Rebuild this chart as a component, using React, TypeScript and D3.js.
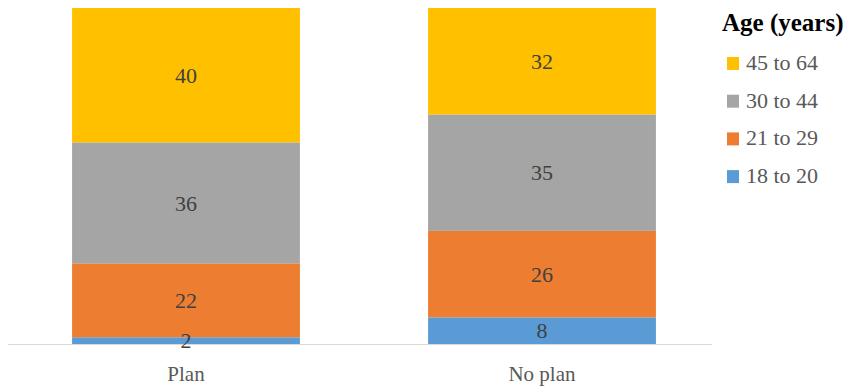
import React from "react";
import * as d3 from "d3";

const categories = ["Plan", "No plan"];
const seriesNames = ["18 to 20", "21 to 29", "30 to 44", "45 to 64"];
const seriesColors = ["#5B9BD5", "#ED7D31", "#A5A5A5", "#FFC000"];
const age18to20 = [2, 8];
const age21to29 = [22, 26];
const age30to44 = [36, 35];
const age45to64 = [40, 32];
const legendTitle = "Age (years)";

const W = 853;
const H = 390;
const FONT = "'Liberation Serif', 'DejaVu Serif', serif";

export default function App() {
  const series = [age18to20, age21to29, age30to44, age45to64];
  const rows = categories.map((c, i) => {
    const r: any = { cat: c };
    seriesNames.forEach((s, k) => (r[s] = series[k][i]));
    return r;
  });
  const stack = d3.stack<any>().keys(seriesNames).offset(d3.stackOffsetExpand);
  const stacked = stack(rows);

  const x = d3
    .scaleBand<string>()
    .domain(categories)
    .range([8, 720])
    .paddingInner(0.36)
    .paddingOuter(0.18);
  const y = d3.scaleLinear().domain([0, 1]).range([344, 8]);

  const legendOrder = [3, 2, 1, 0];

  return (
    <svg
      width={W}
      height={H}
      style={{ position: "absolute", left: 0, top: 0, background: "#fff", fontFamily: FONT }}
    >
      {stacked.map((layer, k) => (
        <g key={layer.key}>
          {layer.map((d, i) => (
            <rect
              key={i}
              x={x(categories[i])}
              width={x.bandwidth()}
              y={y(d[1])}
              height={y(d[0]) - y(d[1])}
              fill={seriesColors[k]}
            />
          ))}
        </g>
      ))}
      <line x1={8} x2={712} y1={344.5} y2={344.5} stroke="#D9D9D9" strokeWidth={1} />
      {stacked.map((layer, k) => (
        <g key={"l" + layer.key}>
          {layer.map((d, i) => (
            <text
              key={i}
              x={(x(categories[i]) as number) + x.bandwidth() / 2}
              y={(y(d[0]) + y(d[1])) / 2}
              dy="0.35em"
              textAnchor="middle"
              fontSize={22}
              fill="#404040"
              style={{ fontFamily: FONT }}
            >
              {series[k][i]}
            </text>
          ))}
        </g>
      ))}
      {categories.map((c) => (
        <text
          key={c}
          x={(x(c) as number) + x.bandwidth() / 2}
          y={381}
          textAnchor="middle"
          fontSize={21}
          fill="#595959"
          style={{ fontFamily: FONT }}
        >
          {c}
        </text>
      ))}
      <text x={722} y={31} fontSize={25} fontWeight="bold" fill="#000" style={{ fontFamily: FONT }}>
        {legendTitle}
      </text>
      {legendOrder.map((k, j) => (
        <g key={k} transform={`translate(727, ${70 + j * 37.7})`}>
          <rect x={0} y={-13} width={12} height={13} fill={seriesColors[k]} />
          <text x={19} y={0} fontSize={22} fill="#595959" style={{ fontFamily: FONT }}>
            {seriesNames[k]}
          </text>
        </g>
      ))}
    </svg>
  );
}
